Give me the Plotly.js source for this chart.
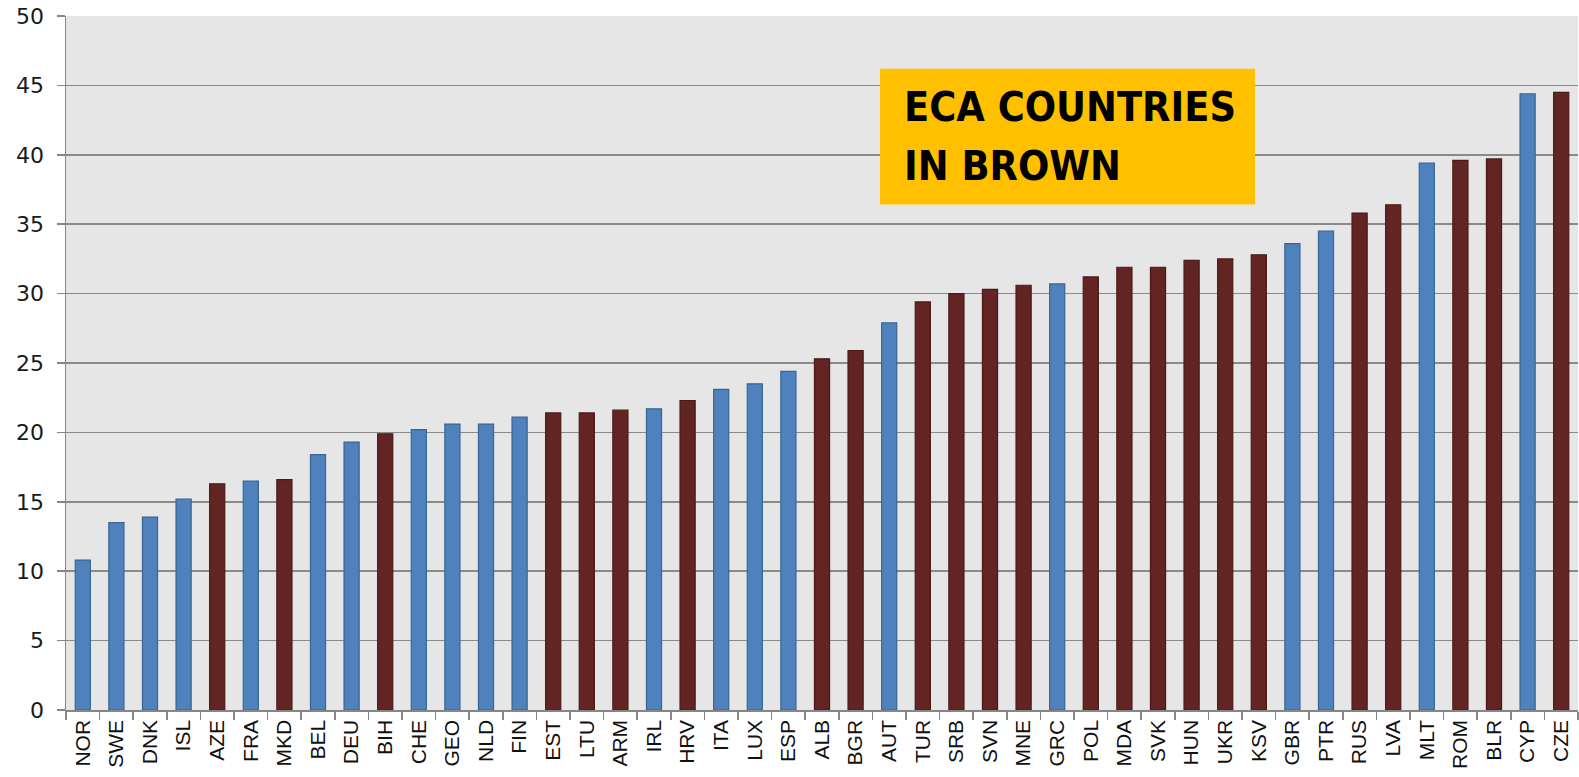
<!DOCTYPE html>
<html>
<head>
<meta charset="utf-8">
<script src="https://cdn.plot.ly/plotly-3.0.1.min.js"></script>
<style>html,body{margin:0;padding:0;background:#fff;}#chart{width:1579px;height:777px;}</style>
</head>
<body>
<div id="chart"></div>
<script>
const countries = ["NOR","SWE","DNK","ISL","AZE","FRA","MKD","BEL","DEU","BIH","CHE","GEO","NLD","FIN","EST","LTU","ARM","IRL","HRV","ITA","LUX","ESP","ALB","BGR","AUT","TUR","SRB","SVN","MNE","GRC","POL","MDA","SVK","HUN","UKR","KSV","GBR","PTR","RUS","LVA","MLT","ROM","BLR","CYP","CZE"];
const values = [10.8,13.5,13.9,15.2,16.3,16.5,16.6,18.4,19.3,19.9,20.2,20.6,20.6,21.1,21.4,21.4,21.6,21.7,22.3,23.1,23.5,24.4,25.3,25.9,27.9,29.4,30.0,30.3,30.6,30.7,31.2,31.9,31.9,32.4,32.5,32.8,33.6,34.5,35.8,36.4,39.4,39.6,39.7,44.4,44.5];
const isECA = [0,0,0,0,1,0,1,0,0,1, 0,0,0,0,1,1,1,0,1,0, 0,0,1,1,0,1,1,1,1,0, 1,1,1,1,1,1,0,0,1,1, 0,1,1,0,1];
const yTicks = [0,5,10,15,20,25,30,35,40,45,50];
const noteLines = ["ECA COUNTRIES", "IN BROWN"];

const BLUE = "#4f81bd", BLUE_LINE = "#3b6593";
const BROWN = "#632523", BROWN_LINE = "#4a1a19";

const trace = {
  type: "bar",
  x: countries,
  y: values,
  width: 0.45,
  marker: {
    color: isECA.map(e => e ? BROWN : BLUE),
    line: { color: isECA.map(e => e ? BROWN_LINE : BLUE_LINE), width: 1.2 }
  },
  hoverinfo: "x+y"
};

const noteFont = { family: "DejaVu Sans Condensed, Liberation Sans Narrow, sans-serif", size: 41, color: "#000", weight: "bold" };

const layout = {
  width: 1579, height: 777,
  margin: { l: 66, r: 1, t: 16, b: 67, pad: 0 },
  paper_bgcolor: "#ffffff",
  plot_bgcolor: "#e6e6e6",
  showlegend: false,
  bargap: 0.55,
  xaxis: {
    type: "category",
    tickangle: -90,
    tickfont: { family: "Liberation Sans, Arial, sans-serif", size: 21, color: "#111" },
    ticks: "outside", tickson: "boundaries", ticklen: 8, tickcolor: "#868686", tickwidth: 1.5,
    showline: true, linecolor: "#868686", linewidth: 1.5,
    showgrid: false, automargin: false, fixedrange: true
  },
  yaxis: {
    range: [0, 50],
    tickvals: yTicks,
    ticktext: yTicks.map(String),
    tickfont: { family: "DejaVu Sans, Verdana, sans-serif", size: 22, color: "#1a1a1a" },
    ticks: "outside", ticklen: 8, tickcolor: "#868686", tickwidth: 1.5,
    ticklabelstandoff: 8,
    showline: true, linecolor: "#868686", linewidth: 1.5,
    showgrid: true, gridcolor: "#8a8a8a", gridwidth: 1.6,
    zeroline: false, automargin: false, fixedrange: true
  },
  shapes: [{
    type: "rect", xref: "paper", yref: "y",
    x0: 0.5384, x1: 0.7864, y0: 36.42, y1: 46.2,
    fillcolor: "#ffc000", line: { width: 0 }, layer: "above"
  }],
  annotations: [
    { xref: "paper", yref: "y", x: 0.5527, y: 43.45, xanchor: "left", yanchor: "middle",
      text: noteLines[0], showarrow: false, font: noteFont },
    { xref: "paper", yref: "y", x: 0.5527, y: 39.2, xanchor: "left", yanchor: "middle",
      text: noteLines[1], showarrow: false, font: noteFont }
  ]
};

Plotly.newPlot("chart", [trace], layout, { displayModeBar: false, staticPlot: true });
</script>
</body>
</html>
